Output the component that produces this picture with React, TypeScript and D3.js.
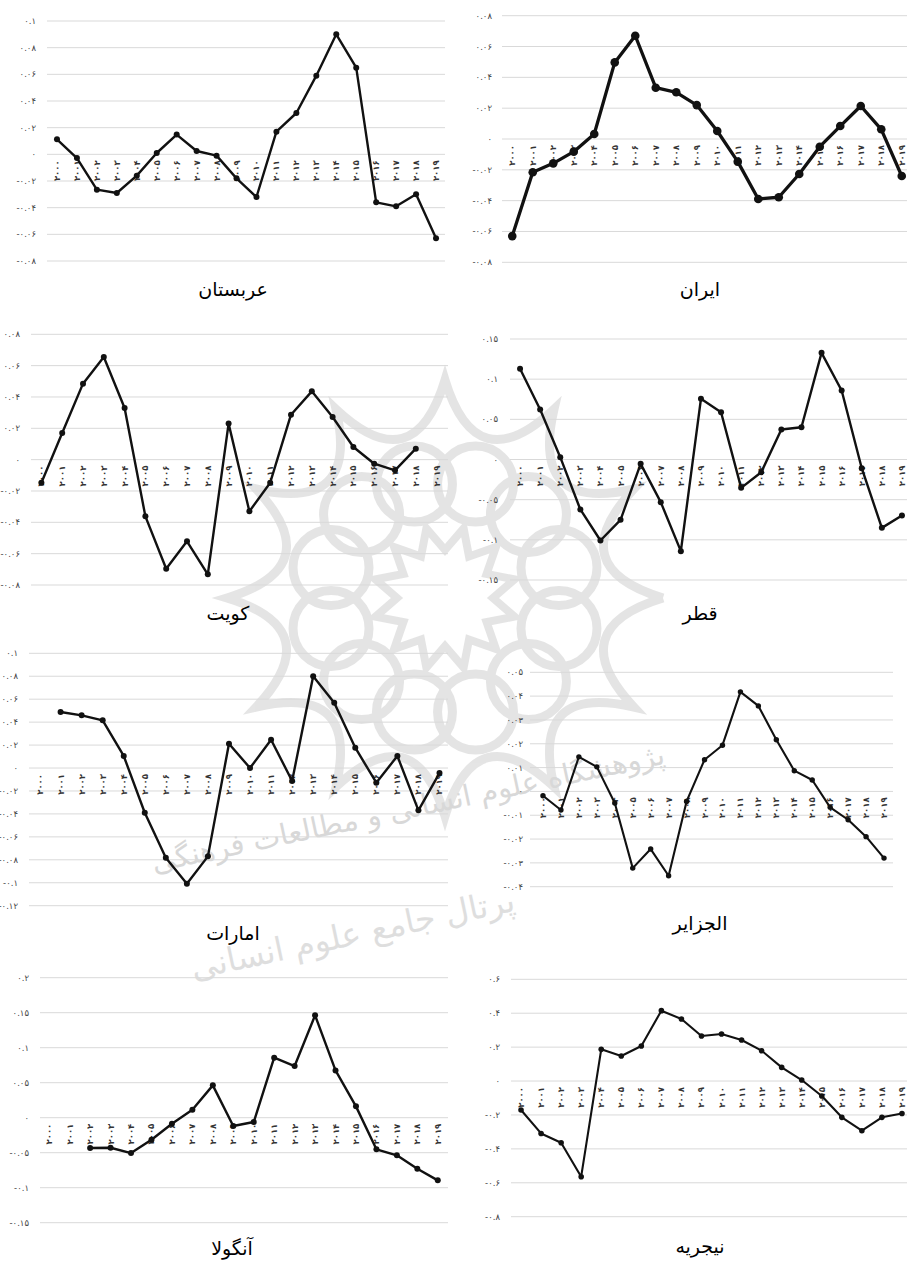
import React from 'react';
import * as d3 from 'd3';

const W = 907;
const H = 1266;

const years = ['2000', '2001', '2002', '2003', '2004', '2005', '2006', '2007', '2008', '2009',
  '2010', '2011', '2012', '2013', '2014', '2015', '2016', '2017', '2018', '2019'];

// values
const saudi = [0.0113, -0.0028, -0.0265, -0.029, -0.016, 0.001, 0.0148, 0.0025, -0.001, -0.018,
  -0.032, 0.017, 0.031, 0.059, 0.09, 0.065, -0.036, -0.039, -0.03, -0.063];
const iran = [-0.063, -0.0216, -0.0158, -0.0082, 0.0032, 0.0497, 0.067, 0.0333, 0.0303, 0.022,
  0.0052, -0.0147, -0.0389, -0.0378, -0.0227, -0.005, 0.0084, 0.0214, 0.0063, -0.024];
const kuwait = [-0.0147, 0.017, 0.0485, 0.0655, 0.033, -0.0362, -0.0696, -0.0521, -0.0732, 0.023,
  -0.033, -0.0147, 0.0287, 0.0436, 0.0272, 0.0081, -0.0026, -0.0068, 0.007, null];
const qatar = [0.1129, 0.0622, 0.0029, -0.0622, -0.1008, -0.0751, -0.0054, -0.0531, -0.1141, 0.0755,
  0.0589, -0.0353, -0.0158, 0.0373, 0.0402, 0.1328, 0.0859, -0.0108, -0.0851, -0.0697];
const uae = [null, 0.0488, 0.0459, 0.0416, 0.0105, -0.039, -0.0782, -0.1009, -0.077, 0.0212,
  0, 0.0247, -0.0113, 0.0799, 0.057, 0.0177, -0.0128, 0.0105, -0.0369, -0.0044];
const algeria = [-0.0018, -0.0078, 0.0145, 0.0103, -0.0049, -0.0322, -0.0242, -0.0354, -0.0042, 0.0133,
  0.0194, 0.0418, 0.0359, 0.0217, 0.0087, 0.0048, -0.0067, -0.0119, -0.019, -0.028];
const angola = [null, null, -0.0433, -0.0429, -0.0505, -0.0314, -0.0086, 0.0114, 0.0462, -0.0119,
  -0.0062, 0.0857, 0.0738, 0.1462, 0.0676, 0.0162, -0.0452, -0.0538, -0.0729, -0.0895];
const nigeria = [-0.171, -0.309, -0.364, -0.564, 0.187, 0.1475, 0.2065, 0.415, 0.366, 0.2655,
  0.277, 0.242, 0.179, 0.0806, 0.0059, -0.0885, -0.214, -0.293, -0.214, -0.191];

const ticks008 = [-0.08, -0.06, -0.04, -0.02, 0, 0.02, 0.04, 0.06, 0.08];
const saudiTicks = [-0.08, -0.06, -0.04, -0.02, 0, 0.02, 0.04, 0.06, 0.08, 0.1];
const qatarTicks = [-0.15, -0.1, -0.05, 0, 0.05, 0.1, 0.15];
const uaeTicks = [-0.12, -0.1, -0.08, -0.06, -0.04, -0.02, 0, 0.02, 0.04, 0.06, 0.08, 0.1];
const algeriaTicks = [-0.04, -0.03, -0.02, -0.01, 0, 0.01, 0.02, 0.03, 0.04, 0.05];
const angolaTicks = [-0.15, -0.1, -0.05, 0, 0.05, 0.1, 0.15, 0.2];
const nigeriaTicks = [-0.8, -0.6, -0.4, -0.2, 0, 0.2, 0.4, 0.6];

const panels = [
  { title: 'عربستان', values: saudi, ticks: saudiTicks, xr: [47, 446], yr: [261, 21], grid: [47, 445], labelX: 36, tx: 233, ty: 296, sw: 2.4, r: 3 },
  { title: 'ایران', values: iran, ticks: ticks008, xr: [502, 912], yr: [262.3, 15.7], grid: [502, 907], labelX: 492, tx: 700, ty: 296, sw: 3.3, r: 4.3 },
  { title: 'کویت', values: kuwait, ticks: ticks008, xr: [31, 447], yr: [585, 334.3], grid: [31, 448], labelX: 20, tx: 228, ty: 620, sw: 2.4, r: 3 },
  { title: 'قطر', values: qatar, ticks: qatarTicks, xr: [510, 912], yr: [580, 339], grid: [510, 907], labelX: 498, tx: 700, ty: 620, sw: 2.4, r: 3 },
  { title: 'امارات', values: uae, ticks: uaeTicks, xr: [29, 450], yr: [905.7, 653.3], grid: [29, 448], labelX: 18, tx: 233, ty: 940, sw: 2.4, r: 3 },
  { title: 'الجزایر', values: algeria, ticks: algeriaTicks, xr: [534, 893], yr: [886.7, 672.3], grid: [530, 893], labelX: 523, tx: 700, ty: 930, sw: 2.1, r: 2.7 },
  { title: 'آنگولا', values: angola, ticks: angolaTicks, xr: [39, 448], yr: [1222.7, 977.7], grid: [40, 448], labelX: 29, tx: 232, ty: 1255, sw: 2.4, r: 3 },
  { title: 'نیجریه', values: nigeria, ticks: nigeriaTicks, xr: [511, 912], yr: [1216.7, 979.3], grid: [511, 907], labelX: 500, tx: 700, ty: 1253, sw: 2.1, r: 2.8 },
];

const faDigits = '۰۱۲۳۴۵۶۷۸۹';
const toFa = (s: string) => s.replace(/\d/g, (d) => faDigits[+d]);
const fmt = (v: number) => toFa(Number(v.toFixed(4)).toString());

// faint logo behind the charts
function Watermark() {
  const cx = 445, cy = 598;
  const pt = (a: number, rr: number) => [cx + rr * Math.cos(a), cy + rr * Math.sin(a)];
  const n = 12;
  let star = '';
  for (let k = 0; k < n; k++) {
    const a0 = (k * 2 * Math.PI) / n;
    const a1 = ((k + 1) * 2 * Math.PI) / n;
    const am = (a0 + a1) / 2;
    const p0 = pt(a0, 218), c = pt(am, 120), p1 = pt(a1, 218);
    if (k === 0) star += `M${p0[0]},${p0[1]}`;
    star += `Q${c[0]},${c[1]} ${p1[0]},${p1[1]}`;
  }
  let inner = '';
  for (let k = 0; k < n * 2; k++) {
    const a = (k * Math.PI) / n + Math.PI / n;
    const p = pt(a, k % 2 === 0 ? 72 : 48);
    inner += (k === 0 ? 'M' : 'L') + p[0] + ',' + p[1];
  }
  inner += 'Z';
  const ring = d3.range(n).map((k) => pt((k * 2 * Math.PI) / n + Math.PI / n, 118));
  return (
    <g>
      <g stroke="#dcdcdc" fill="none" opacity={0.75}>
        <path d={star} strokeWidth={9} />
        {ring.map((p, i) => (
          <circle key={i} cx={p[0]} cy={p[1]} r={38} strokeWidth={9} />
        ))}
        <path d={inner} strokeWidth={8} />
      </g>
      <text x={410} y={818} transform="rotate(-12 410 818)" textAnchor="middle" fill="#d8d8d8"
        fontFamily="DejaVu Sans" fontSize={29}>پژوهشگاه علوم انسانی و مطالعات فرهنگی</text>
      <text x={355} y={945} transform="rotate(-12 355 945)" textAnchor="middle" fill="#dedede"
        fontFamily="DejaVu Sans" fontSize={33}>پرتال جامع علوم انسانی</text>
    </g>
  );
}

function Panel({ p }: { p: any }) {
  const x = d3.scaleBand().domain(years).range(p.xr);
  const ext = d3.extent(p.ticks as number[]) as [number, number];
  const y = d3.scaleLinear().domain(ext).range(p.yr);
  const cx = (yr: string) => (x(yr) as number) + x.bandwidth() / 2;
  const pts = years.map((yr, i) => ({ yr, v: p.values[i] as number | null }));
  const line = d3.line<{ yr: string; v: number | null }>()
    .defined((d) => d.v != null)
    .x((d) => cx(d.yr))
    .y((d) => y(d.v as number));
  const y0 = y(0);
  return (
    <g>
      {p.ticks.map((t: number) => (
        <line key={'g' + t} x1={p.grid[0]} x2={p.grid[1]} y1={y(t)} y2={y(t)} stroke="#d9d9d9" strokeWidth={1} />
      ))}
      {p.ticks.map((t: number) => (
        <text key={'t' + t} x={p.labelX} y={y(t)} textAnchor="end" dominantBaseline="central"
          fontSize={8.5} fill="#444">{fmt(t)}</text>
      ))}
      {years.map((yr) => (
        <text key={yr} transform={`translate(${cx(yr)},${y0 + 6}) rotate(-90)`} textAnchor="end"
          dominantBaseline="central" fontSize={8.5} fontWeight="bold" fill="#333">{toFa(yr)}</text>
      ))}
      <path d={line(pts) || ''} fill="none" stroke="#111" strokeWidth={p.sw} strokeLinejoin="round" />
      {pts.filter((d) => d.v != null).map((d) => (
        <circle key={'c' + d.yr} cx={cx(d.yr)} cy={y(d.v as number)} r={p.r} fill="#111" />
      ))}
      <text x={p.tx} y={p.ty} textAnchor="middle" fontSize={19} fill="#000">{p.title}</text>
    </g>
  );
}

export default function App() {
  return (
    <svg width={W} height={H} style={{ position: 'absolute', left: 0, top: 0, background: '#fff' }}
      fontFamily="DejaVu Sans">
      <rect width={W} height={H} fill="#fff" />
      <Watermark />
      {panels.map((p) => (
        <Panel key={p.title} p={p} />
      ))}
    </svg>
  );
}
